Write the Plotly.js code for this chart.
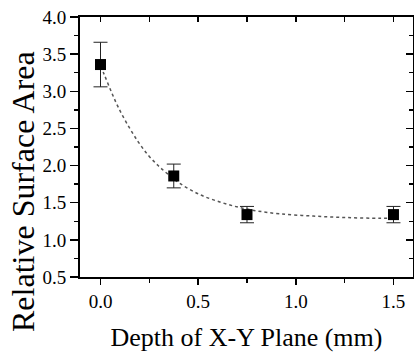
<!DOCTYPE html>
<html>
<head>
<meta charset="utf-8">
<script src="https://cdn.plot.ly/plotly-3.0.1.min.js"></script>
<style>html,body{margin:0;padding:0;background:#fff;}#chart{width:414px;height:352px;}</style>
</head>
<body>
<div id="chart"></div>
<script>
// Measured points
const depth = [0.0, 0.375, 0.75, 1.5];
const relArea = [3.36, 1.86, 1.34, 1.34];
const relErr = [0.30, 0.16, 0.11, 0.11];
// Fitted curve
const fitX = [0, 0.02, 0.056, 0.09, 0.141, 0.193, 0.244, 0.295, 0.338, 0.406, 0.508, 0.611, 0.705, 0.80, 0.918, 1.089, 1.26, 1.43, 1.5];
const fitY = [3.34, 3.22, 2.99, 2.79, 2.54, 2.32, 2.14, 2.00, 1.90, 1.76, 1.61, 1.51, 1.44, 1.39, 1.35, 1.32, 1.30, 1.29, 1.29];
const xTickVals = [0, 0.5, 1.0, 1.5];
const xTickText = ['0.0', '0.5', '1.0', '1.5'];
const yTickVals = [0.5, 1.0, 1.5, 2.0, 2.5, 3.0, 3.5, 4.0];
const yTickText = ['0.5', '1.0', '1.5', '2.0', '2.5', '3.0', '3.5', '4.0'];
const yTitle = 'Relative Surface Area';
const xTitle = 'Depth of X-Y Plane (mm)';

const FONT = 'Liberation Serif';
const xr = [-0.105, 1.6], yr = [0.5, 4.0];

const traces = [
  {x: fitX, y: fitY, mode: 'lines', line: {color: '#555', width: 1.5, dash: 'dot', shape: 'spline'}, hoverinfo: 'skip'},
  {x: depth, y: relArea, mode: 'markers', marker: {symbol: 'square', size: 11, color: '#000'},
   error_y: {type: 'data', array: relErr, visible: true, color: '#222', thickness: 1, width: 7}},
  {x: [], y: [], xaxis: 'x2', yaxis: 'y2', mode: 'markers'}
];

const layout = {
  width: 414, height: 352,
  margin: {l: 80, r: 1, t: 17, b: 75},
  paper_bgcolor: '#fff', plot_bgcolor: '#fff',
  showlegend: false,
  font: {family: FONT, color: '#000', size: 19},
  xaxis: {
    range: xr, tickmode: 'array', tickvals: xTickVals, ticktext: xTickText,
    ticks: 'outside', ticklen: 6, tickwidth: 1.5, tickcolor: '#000',
    minor: {dtick: 0.25, tick0: 0, ticks: 'outside', ticklen: 4, tickwidth: 1.5, tickcolor: '#000'},
    showline: true, linewidth: 2, linecolor: '#000', mirror: true,
    showgrid: false, zeroline: false,
    tickfont: {family: FONT, size: 19, color: '#000'},
    title: {text: xTitle, font: {family: FONT, size: 26, color: '#000'}}
  },
  yaxis: {
    range: yr, tickmode: 'array', tickvals: yTickVals, ticktext: yTickText,
    ticks: 'outside', ticklen: 8, tickwidth: 1.5, tickcolor: '#000',
    minor: {dtick: 0.25, tick0: 0.5, ticks: 'outside', ticklen: 4, tickwidth: 1.5, tickcolor: '#000'},
    showline: true, linewidth: 2, linecolor: '#000', mirror: true,
    showgrid: false, zeroline: false,
    tickfont: {family: FONT, size: 19, color: '#000'}
  },
  xaxis2: {
    overlaying: 'x', side: 'top', range: xr, dtick: 0.25, tick0: 0,
    ticks: 'inside', ticklen: 5, tickwidth: 1.5, tickcolor: '#000',
    showticklabels: false, showgrid: false, zeroline: false, showline: false
  },
  yaxis2: {
    overlaying: 'y', side: 'right', range: yr, dtick: 0.5, tick0: 0.5,
    ticks: 'inside', ticklen: 7, tickwidth: 1.5, tickcolor: '#000',
    minor: {dtick: 0.25, tick0: 0.5, ticks: 'inside', ticklen: 4, tickwidth: 1.5, tickcolor: '#000'},
    showticklabels: false, showgrid: false, zeroline: false, showline: false
  },
  annotations: [{
    text: yTitle, textangle: -90, showarrow: false,
    xref: 'paper', yref: 'paper', x: 0, y: 0.327, xshift: -57,
    xanchor: 'center', yanchor: 'middle',
    font: {family: FONT, size: 32, color: '#000'}
  }]
};

Plotly.newPlot('chart', traces, layout, {displayModeBar: false, staticPlot: true});
</script>
</body>
</html>
